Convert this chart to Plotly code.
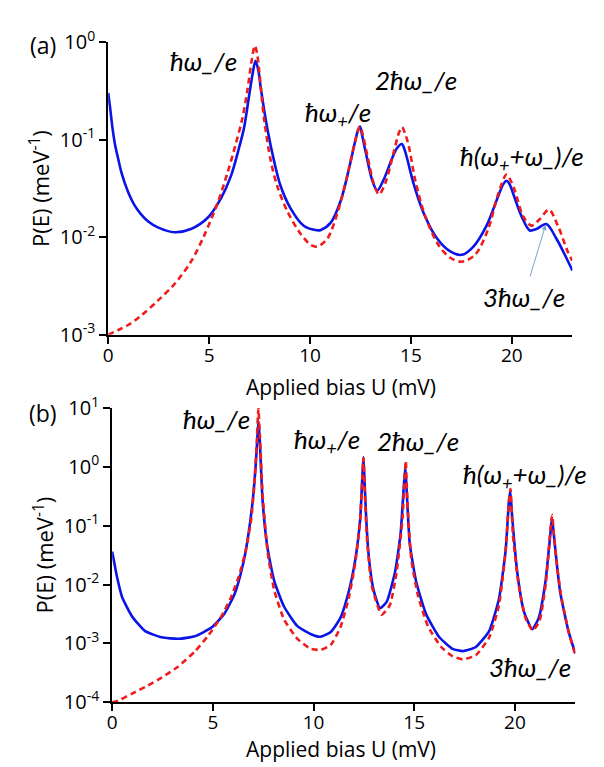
import plotly.graph_objects as go

# ---------------- data ----------------
# Panel (a)
a_blue_U = [0.0, 0.1, 0.2, 0.33, 0.5, 0.66, 0.99, 1.3, 1.64, 2.0, 2.46, 3.28, 4.1, 4.93, 5.58, 6.08, 6.49,
            6.73, 6.98, 7.15, 7.3, 7.45, 7.55, 7.88, 8.21, 8.54, 9.03, 9.69, 10.34, 10.54, 11.03,
            11.53, 11.94, 12.26, 12.38, 12.48, 12.58, 12.76, 13.09, 13.33, 13.66, 14.07, 14.3,
            14.55, 14.7, 14.81, 15.14, 15.63, 16.29, 16.95, 17.52, 18.1, 18.75, 19.25, 19.58,
            19.74, 19.9, 20.07, 20.48, 20.89, 21.22, 21.71, 22.2, 22.7, 23.0]
a_blue_P = [0.302, 0.209, 0.138, 0.0912, 0.0631, 0.0457, 0.0290, 0.0214, 0.0171, 0.01445, 0.01265, 0.01127, 0.01216,
            0.01585, 0.02495, 0.0424, 0.0838, 0.132, 0.281, 0.468, 0.646, 0.501, 0.352, 0.132,
            0.0618, 0.0338, 0.01995, 0.01312, 0.0118, 0.01189, 0.01413, 0.0240, 0.0513, 0.1012,
            0.126, 0.1368, 0.112, 0.0748, 0.0380, 0.0302, 0.0394, 0.0646, 0.0813, 0.0904, 0.0776,
            0.0646, 0.0351, 0.01778, 0.00977, 0.00716, 0.00661, 0.00804, 0.01318, 0.0240, 0.0351,
            0.0380, 0.0347, 0.0280, 0.01648, 0.01175, 0.01216, 0.01365, 0.00977, 0.00617, 0.00457]

a_red_U = [0.0, 0.5, 0.99, 1.64, 2.46, 3.28, 4.1, 4.76, 5.42, 5.91, 6.32, 6.65, 6.9, 7.1, 7.27,
           7.38, 7.5, 7.72, 8.05, 8.37, 8.87, 9.52, 10.05, 10.38, 10.87, 11.36, 11.86, 12.26,
           12.48, 12.62, 12.84, 13.17, 13.42, 13.74, 14.15, 14.42, 14.56, 14.7, 14.89, 15.22,
           15.71, 16.37, 16.95, 17.52, 18.18, 18.83, 19.33, 19.74, 19.95, 20.15, 20.56, 20.97,
           21.38, 21.84, 22.28, 22.77, 23.0]
a_red_P = [0.00100, 0.00112, 0.00126, 0.00158, 0.00224, 0.00331, 0.00562, 0.01047, 0.0224, 0.0457,
           0.0904, 0.166, 0.324, 0.631, 0.923, 0.759, 0.468, 0.166, 0.0617, 0.0339, 0.0186,
           0.01096, 0.00832, 0.00804, 0.00977, 0.01778, 0.0440, 0.1012, 0.1368, 0.112, 0.0692,
           0.0351, 0.0275, 0.0363, 0.0748, 0.120, 0.135, 0.1175, 0.0871, 0.0380, 0.01648, 0.00832,
           0.00617, 0.00562, 0.00661, 0.01216, 0.0280, 0.0440, 0.0380, 0.0302, 0.01648, 0.01318,
           0.01528, 0.0192, 0.01318, 0.00716, 0.00575]

# Panel (b)
b_blue_U = [0.0, 0.1, 0.25, 0.49, 0.99, 1.64, 2.46, 3.28, 4.1, 4.93, 5.58, 6.08, 6.49, 6.73, 6.98,
            7.14, 7.22, 7.27, 7.33, 7.47, 7.72, 8.05, 8.54, 9.2, 9.85, 10.34, 10.84, 11.33, 11.74,
            12.07, 12.32, 12.42, 12.48, 12.54, 12.62, 12.73, 12.97, 13.3, 13.63, 14.04, 14.32,
            14.47, 14.56, 14.64, 14.78, 15.11, 15.6, 16.26, 16.91, 17.41, 18.06, 18.72, 19.21,
            19.54, 19.7, 19.77, 19.87, 20.12, 20.45, 20.86, 21.18, 21.51, 21.76, 21.84, 21.92,
            22.02, 22.25, 22.66, 23.0]
b_blue_P = [0.0363, 0.0240, 0.01303, 0.00617, 0.00288, 0.00162, 0.00127, 0.00120, 0.00132, 0.00186,
            0.00324, 0.00692, 0.0215, 0.0589, 0.267, 1.21, 3.55, 6.0, 2.82, 0.267, 0.0405,
            0.01148, 0.0042, 0.00197, 0.00145, 0.0013, 0.00155, 0.00269, 0.00741, 0.026, 0.1337,
            0.631, 1.46, 0.501, 0.126, 0.0335, 0.00838, 0.00398, 0.00507, 0.01585, 0.0711, 0.398,
            1.0, 0.316, 0.049, 0.01072, 0.00309, 0.00126, 0.00081, 0.00074, 0.00087, 0.00162,
            0.00575, 0.038, 0.251, 0.389, 0.1337, 0.01585, 0.00347, 0.00174, 0.00269, 0.01072,
            0.0711, 0.135, 0.0794, 0.0355, 0.00741, 0.00162, 0.000676]

b_red_U = [0.0, 0.3, 0.99, 1.64, 2.46, 3.28, 4.1, 4.76, 5.42, 5.91, 6.32, 6.65, 6.9, 7.06, 7.18,
           7.26, 7.34, 7.47, 7.72, 8.05, 8.54, 9.2, 9.85, 10.34, 10.84, 11.33, 11.74, 12.07,
           12.32, 12.42, 12.48, 12.54, 12.64, 12.89, 13.38, 13.79, 14.12, 14.42, 14.5, 14.58,
           14.64, 14.72, 14.86, 15.19, 15.68, 16.34, 16.91, 17.41, 18.06, 18.72, 19.21, 19.54,
           19.7, 19.78, 19.9, 20.17, 20.53, 20.89, 21.22, 21.54, 21.77, 21.85, 21.95, 22.1, 22.3,
           22.66, 23.0]
b_red_P = [0.000100, 0.000107, 0.000141, 0.000182, 0.000263, 0.000407, 0.000724, 0.00135, 0.00288,
           0.00617, 0.0148, 0.0407, 0.126, 0.501, 2.57, 9.8, 3.16, 0.347, 0.0355, 0.00794,
           0.00254, 0.0012, 0.000813, 0.000776, 0.000933, 0.00186, 0.00575, 0.0229, 0.1337,
           0.631, 1.41, 0.447, 0.0711, 0.00955, 0.00309, 0.00447, 0.01585, 0.1337, 0.501, 1.26,
           0.398, 0.112, 0.026, 0.00646, 0.00197, 0.000871, 0.000603, 0.000537, 0.000631, 0.00126,
           0.00447, 0.038, 0.251, 0.417, 0.0711, 0.01072, 0.00269, 0.00166, 0.0024, 0.01072,
           0.0912, 0.151, 0.0631, 0.02, 0.0063, 0.00162, 0.000631]

x_ticks = [0, 5, 10, 15, 20]
a_y_ticks = [1e-3, 1e-2, 1e-1, 1e0]
a_y_ticktext = ["10<sup>-3</sup>", "10<sup>-2</sup>", "10<sup>-1</sup>", "10<sup>0</sup>"]
b_y_ticks = [1e-4, 1e-3, 1e-2, 1e-1, 1e0, 1e1]
b_y_ticktext = ["10<sup>-4</sup>", "10<sup>-3</sup>", "10<sup>-2</sup>", "10<sup>-1</sup>",
                "10<sup>0</sup>", "10<sup>1</sup>"]
x_title = "Applied bias U (mV)"
y_title = "P(E) (meV<sup>-1</sup>)"

# ---------------- figure ----------------
W, H = 604, 767
BLUE = "#0a14e6"
RED = "#ee1c1c"
FONT = "Open Sans"
IFONT = "Lato"

def px(x):
    return x / W

def py(y):
    return 1 - y / H

fig = go.Figure()
fig.add_trace(go.Scatter(x=a_blue_U, y=a_blue_P, mode="lines", line=dict(color=BLUE, width=2.6, shape="spline", smoothing=0.9),
                         xaxis="x", yaxis="y", showlegend=False))
fig.add_trace(go.Scatter(x=a_red_U, y=a_red_P, mode="lines", line=dict(color=RED, width=2.6, dash="6px,4px", shape="spline", smoothing=0.9),
                         xaxis="x", yaxis="y", showlegend=False))
fig.add_trace(go.Scatter(x=b_blue_U, y=b_blue_P, mode="lines", line=dict(color=BLUE, width=2.6, shape="spline", smoothing=0.5),
                         xaxis="x2", yaxis="y2", showlegend=False))
fig.add_trace(go.Scatter(x=b_red_U, y=b_red_P, mode="lines", line=dict(color=RED, width=2.6, dash="6px,4px", shape="spline", smoothing=0.5),
                         xaxis="x2", yaxis="y2", showlegend=False))

axis_common = dict(showline=True, linecolor="black", linewidth=2, ticks="outside", ticklen=7,
                   tickwidth=2, tickcolor="black", showgrid=False, zeroline=False, mirror=False,
                   tickfont=dict(family=FONT, size=20, color="black"))
x_tickfont = dict(family=FONT, size=19, color="black")

ytitle = dict(text=y_title, font=dict(family=FONT, size=22, color="black"), standoff=4)

xa = {k: v for k, v in axis_common.items() if k != "tickfont"}
fig.update_layout(
    width=W, height=H,
    margin=dict(l=0, r=0, t=0, b=0),
    paper_bgcolor="white", plot_bgcolor="white",
    xaxis=dict(domain=[px(96), px(564)], range=[0, 23], tickvals=x_ticks, anchor="y",
               ticklabelstandoff=-5, tickfont=x_tickfont, **xa),
    yaxis=dict(domain=[py(323), py(19)], type="log", range=[-3, 0], tickvals=a_y_ticks, ticktext=a_y_ticktext,
               anchor="x", title=ytitle, **axis_common),
    xaxis2=dict(domain=[px(100), px(567)], range=[0, 23], tickvals=x_ticks, anchor="y2",
                ticklabelstandoff=-5, tickfont=x_tickfont, **xa),
    yaxis2=dict(domain=[py(705), py(399)], type="log", range=[-4, 1], tickvals=b_y_ticks, ticktext=b_y_ticktext,
                anchor="x2", title=ytitle, **axis_common),
)

title_font = dict(family=FONT, size=21, color="black")
for ty in (377, 754):
    fig.add_annotation(text=x_title, x=px(331), y=py(ty), xref="paper", yref="paper", showarrow=False,
                       xanchor="center", yanchor="middle", font=title_font)

ann_font = dict(family=IFONT, size=26, color="black")
lab_font = dict(family=FONT, size=23, color="black")
fig.add_annotation(text="(a)", x=px(30), y=py(22), xref="paper", yref="paper", showarrow=False,
                   xanchor="center", yanchor="middle", font=lab_font)
fig.add_annotation(text="(b)", x=px(30), y=py(404), xref="paper", yref="paper", showarrow=False,
                   xanchor="center", yanchor="middle", font=lab_font)
labels = [
    ("<i>ħω_/e</i>", 192, 38),
    ("<i>ħω<sub>+</sub>/e</i>", 328, 93),
    ("<i>2ħω_/e</i>", 406, 58),
    ("<i>ħ(ω<sub>+</sub>+ω_)/e</i>", 513, 139),
    ("<i>3ħω_/e</i>", 515, 284),
    ("<i>ħω_/e</i>", 205, 411),
    ("<i>ħω<sub>+</sub>/e</i>", 317, 433),
    ("<i>2ħω_/e</i>", 408, 433),
    ("<i>ħ(ω<sub>+</sub>+ω_)/e</i>", 516, 469),
    ("<i>3ħω_/e</i>", 521, 668),
]
for text, x, y in labels:
    fig.add_annotation(text=text, x=px(x), y=py(y), xref="paper", yref="paper", showarrow=False,
                       xanchor="center", yanchor="middle", font=ann_font)

# arrow for 3ħω_/e in panel (a)
fig.add_annotation(x=px(537), y=py(209), xref="paper", yref="paper", ax=521 - 537, ay=262 - 209,
                   axref="pixel", ayref="pixel", showarrow=True, text="", arrowhead=2, arrowsize=1,
                   arrowwidth=1, arrowcolor="#7f9fd0")

fig.write_html("out.html")
